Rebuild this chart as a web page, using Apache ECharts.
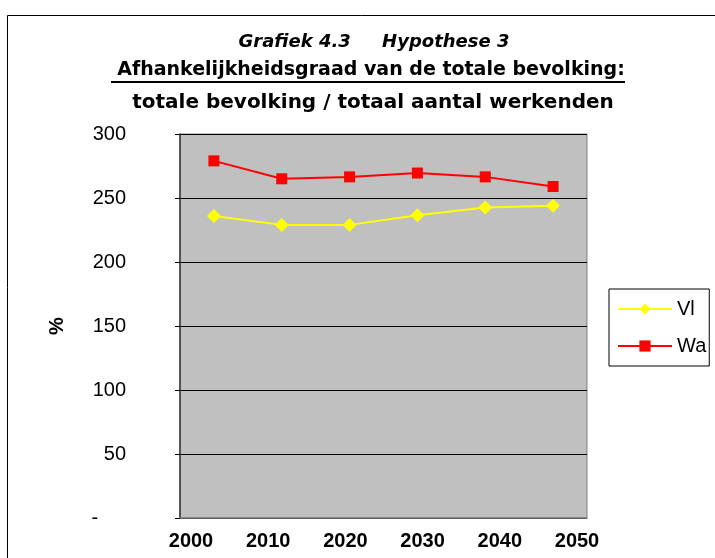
<!DOCTYPE html>
<html><head><meta charset="utf-8">
<script src="https://cdn.jsdelivr.net/npm/echarts@6/dist/echarts.min.js"></script>
<style>html,body{margin:0;padding:0;background:#fff}#c{width:715px;height:558px}</style>
</head><body><div id="c"></div>
<script>
var categories = ['1', '2', '3', '4', '5', '6'];
var yearLabels = ['2000', '2010', '2020', '2030', '2040', '2050'];
var vlValues = [236, 229, 229, 236.5, 242.5, 244];
var waValues = [279, 265, 266.5, 269.5, 266.5, 259];
var seriesNames = ['Vl', 'Wa'];

var chart = echarts.init(document.getElementById('c'));
var F = 'Arial, "Liberation Sans", sans-serif';
var FT = '"DejaVu Sans", sans-serif';
chart.setOption({
  animation: false,
  backgroundColor: '#fff',
  title: [
    {text: 'Grafiek 4.3     Hypothese 3', left: 369, textAlign: 'center', top: 28,
     textStyle: {fontFamily: FT, fontSize: 18, fontWeight: 'bold', fontStyle: 'italic', color: '#000'}},
    {text: 'Afhankelijkheidsgraad van de totale bevolking:', left: 366, textAlign: 'center', top: 56,
     textStyle: {fontFamily: FT, fontSize: 19, fontWeight: 'bold', color: '#000'}},
    {text: 'totale bevolking / totaal aantal werkenden', left: 368, textAlign: 'center', top: 88,
     textStyle: {fontFamily: FT, fontSize: 20, fontWeight: 'bold', color: '#000'}}
  ],
  graphic: [
    {type: 'rect', shape: {x: 7.5, y: 15.5, width: 800, height: 700}, style: {fill: 'none', stroke: '#000', lineWidth: 1}, z: -10},
    {type: 'line', shape: {x1: 111, y1: 82, x2: 625, y2: 82}, style: {stroke: '#000', lineWidth: 2}}
  ],
  legend: {
    orient: 'vertical', left: 609, top: 289,
    padding: [10, 3, 10, 8], itemGap: 17, itemWidth: 54, itemHeight: 14,
    borderColor: '#000', borderWidth: 1, backgroundColor: '#fff',
    textStyle: {fontFamily: F, fontSize: 20, color: '#000'},
    data: seriesNames
  },
  grid: [
    {left: 180, right: 128, top: 134, bottom: 40, show: true, backgroundColor: '#C0C0C0', borderColor: '#808080', borderWidth: 1},
    {left: 152.4, width: 463.2, top: 134, bottom: 40, show: false}
  ],
  xAxis: [
    {type: 'category', gridIndex: 0, data: categories, boundaryGap: true,
     axisLine: {show: true, lineStyle: {color: '#808080', width: 1.5}}, axisTick: {show: false}, axisLabel: {show: false}, splitLine: {show: false}},
    {type: 'category', gridIndex: 1, data: yearLabels, boundaryGap: true,
     axisLine: {show: false}, axisTick: {show: false}, splitLine: {show: false},
     axisLabel: {show: true, margin: 13, fontFamily: F, fontSize: 20, fontWeight: 'bold', color: '#000'}}
  ],
  yAxis: [
    {type: 'value', gridIndex: 0, min: 0, max: 300, interval: 50,
     name: '%', nameLocation: 'middle', nameGap: 113, nameRotate: 90,
     nameTextStyle: {fontFamily: F, fontSize: 20, fontWeight: 'bold', color: '#000'},
     axisLine: {show: true, lineStyle: {color: '#333', width: 1.5}},
     axisTick: {show: true, inside: false, length: 5, lineStyle: {color: '#000'}},
     axisLabel: {margin: 54, fontFamily: F, fontSize: 20, color: '#000',
       formatter: function (v) { return v === 0 ? '-     ' : String(v); }},
     splitLine: {show: true, lineStyle: {color: '#000', width: 1}}},
    {type: 'value', gridIndex: 1, show: false, min: 0, max: 300}
  ],
  series: [
    {name: seriesNames[0], type: 'line', xAxisIndex: 0, yAxisIndex: 0, data: vlValues,
     symbol: 'diamond', symbolSize: 14, showAllSymbol: true,
     lineStyle: {color: '#FFFF00', width: 2}, itemStyle: {color: '#FFFF00'}},
    {name: seriesNames[1], type: 'line', xAxisIndex: 0, yAxisIndex: 0, data: waValues,
     symbol: 'rect', symbolSize: 11, showAllSymbol: true,
     lineStyle: {color: '#FF0000', width: 2}, itemStyle: {color: '#FF0000'}}
  ]
});
</script></body></html>
